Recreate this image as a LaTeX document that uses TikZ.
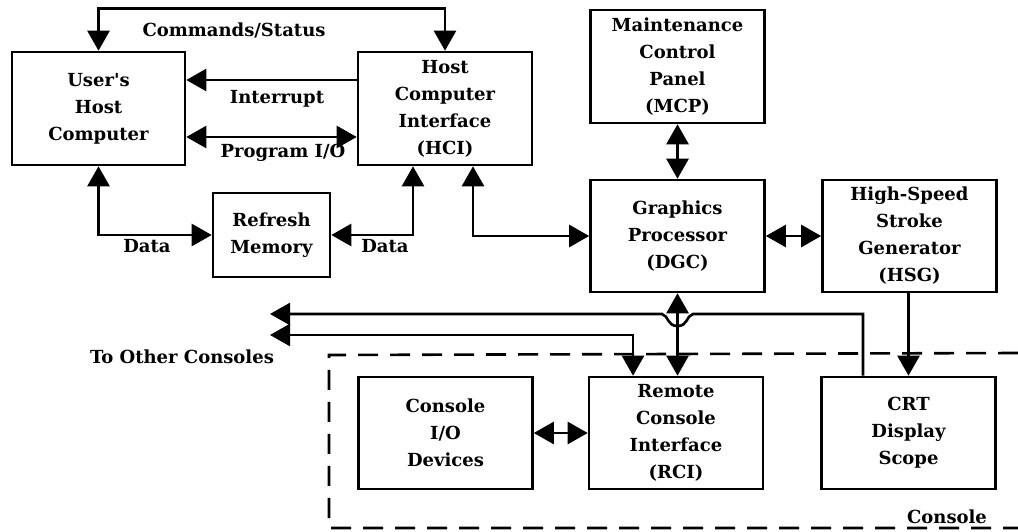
\documentclass[tikz,border=0pt]{standalone}
\usepackage{fontspec}
\setmainfont{DejaVu Serif}
\usetikzlibrary{arrows.meta}
\begin{document}
\begin{tikzpicture}[x=1pt,y=-1pt,
		>={Triangle[length=20pt,width=22pt]},
		blk/.style={draw,line width=2.6pt,minimum width=174pt,minimum height=112pt,align=center,inner sep=2pt},
		lbl/.style={font=\fontsize{18}{27}\selectfont\bfseries},
		con/.style={line width=2.6pt}]
	\useasboundingbox (0,0) rectangle (1018,532);
	\tikzset{every node/.append style={lbl}}
	\node (Us) at (98.5,108.5) [blk,minimum width=173pt,minimum height=113pt] {User\textquotesingle s\\Host\\Computer};
	\node (Hc) at (445,108.5)  [blk,minimum height=113pt] {Host\\Computer\\Interface\\(HCI)};
	\node (Rm) at (271.5,235)  [blk,minimum width=117pt,minimum height=84pt] {Refresh\\Memory};
	\node (Mc) at (677.5,66.5) [blk,minimum height=113pt] {Maintenance\\Control\\Panel\\(MCP)};
	\node (Gp) at (677.5,236)  [blk] {Graphics\\Processor\\(DGC)};
	\node (Hs) at (909.5,236)  [blk] {High-Speed\\Stroke\\Generator\\(HSG)};
	\node (Ci) at (445.5,433)  [blk] {Console\\I/O\\Devices};
	\node (Rc) at (676,433)    [blk] {Remote\\Console\\Interface\\(RCI)};
	\node (Cr) at (908.5,433)  [blk] {CRT\\Display\\Scope};
	% host side
	\draw[con,<->] (Us.north) -- ++(0,-42) -| (Hc.north);
	\node (Cs) at (234,30) {Commands/Status};
	\draw[con,->] ([yshift=28.5pt]Hc.west) -- ([yshift=28.5pt]Us.east);
	\node (In) at (277,99) {Interrupt};
	\draw[con,<->] ([yshift=-28.5pt]Us.east) -- ([yshift=-28.5pt]Hc.west);
	\node (Pi) at (283,153) {Program I/O};
	\draw[con,<->] (Us.south) |- (Rm.west);
	\node (Da) at (147,246) {Data};
	\draw[con,<->] ([xshift=-32pt]Hc.south) |- (Rm.east);
	\node (Db) at (385,246) {Data};
	\draw[con,<->] ([xshift=28pt]Hc.south) |- (Gp.west);
	% processor side
	\draw[con,<->] (Mc.south) -- (Gp.north);
	\draw[con,<->] (Gp.east) -- (Hs.west);
	\draw[con,->] (Hs.south -| Cr.north) -- (Cr.north);
	\draw[con,<->] (Gp.south) -- (Gp.south |- Rc.north);
	% to other consoles
	\coordinate (Oa) at (270,314);
	\coordinate (Ob) at (270,335);
	\draw[con,->] ([xshift=-45.5pt]Cr.north) |- (693,314)
		.. controls (686,316) and (688,326) .. (677.5,326)
		.. controls (667,326) and (669,316) .. (662,314) -- (Oa);
	\draw[con,<->] (Ob) -| ([xshift=-43pt]Rc.north);
	\node (Oc) at (182,357) {To Other Consoles};
	\draw[con,<->] (Ci.east) -- (Rc.west);
	% console frame
	\draw[line width=2.6pt,dash pattern=on 20pt off 12pt] (1018,353) -- (329,355) -- (329,528) -- (1018,528);
	\node (Co) at (947,517) {Console};
\end{tikzpicture}
\end{document}
